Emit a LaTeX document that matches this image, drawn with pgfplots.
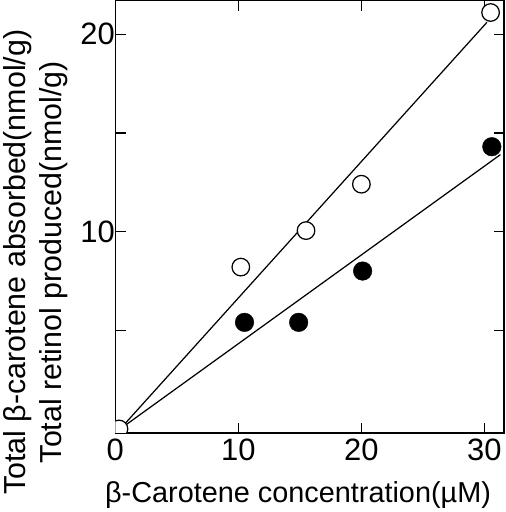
\documentclass[border=0pt]{standalone}
\usepackage{pgfplots}
\pgfplotsset{compat=1.18}
\usepackage{fontspec}
\setmainfont{Liberation Sans}
\begin{document}
\begin{tikzpicture}
\begin{axis}[
  scale only axis,
  width=376bp, height=418bp,
  xmin=0, xmax=31.6, ymin=-0.2, ymax=21.7,
  clip marker paths=true,
  xtick={0,10,20,30}, xticklabels={0,10,20,30},
  ytick={5,10,15,20}, yticklabels={{},10,{},20},
  tick align=inside, major tick length=10bp,
  tick style={line width=1.2pt, black},
  axis line style={line width=1.3pt},
  /pgf/number format/assume math mode=true,
  ticklabel style={font=\fontsize{30}{32}\selectfont},
  xticklabel style={yshift=-2bp},
  yticklabel style={xshift=3bp},
  xlabel={β-Carotene concentration(µM)},
  xlabel style={font=\fontsize{28}{30}\selectfont, at={(axis description cs:0.47,-0.144)}, anchor=center},
  ylabel={Total β-carotene absorbed(nmol/g)\\Total retinol produced(nmol/g)},
  ylabel style={font=\fontsize{29.5}{35}\selectfont, at={(axis description cs:-0.205,0.395)}, anchor=center, align=center},
]
\addplot[black, line width=1.2pt, no marks] coordinates {(0.4,0) (30.2,20.6)};
\addplot[black, line width=1.2pt, no marks] coordinates {(0.4,0) (31.3,13.9)};
\addplot[only marks, mark=*, mark size=8.5bp, mark options={fill=white, draw=black, line width=1.2pt}]
  coordinates {(0.3,0) (10.2,8.2) (15.5,10.05) (20.0,12.4) (30.5,21.1)};
\addplot[only marks, mark=*, mark size=9bp, mark options={fill=black, draw=black}]
  coordinates {(10.5,5.4) (14.9,5.4) (20.1,8.0) (30.6,14.3)};
\end{axis}
\end{tikzpicture}
\end{document}
